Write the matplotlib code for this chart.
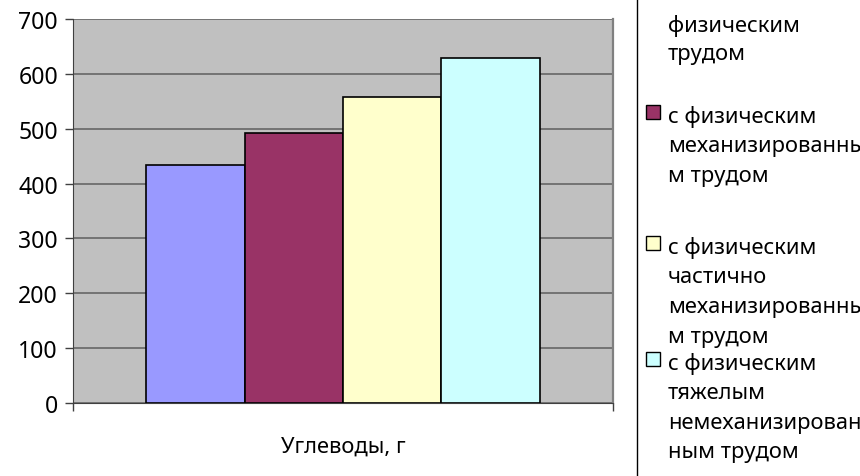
import numpy as np
import matplotlib
matplotlib.use("Agg")
import matplotlib.pyplot as plt
from matplotlib.patches import Rectangle

# ---- data ----
category = "Углеводы, г"
series_labels = [
    "занятые легким\nфизическим\nтрудом",
    "с физическим\nмеханизированны\nм трудом",
    "с физическим\nчастично\nмеханизированны\nм трудом",
    "с физическим\nтяжелым\nнемеханизирован\nным трудом",
]
values = [433, 492, 558, 629]
colors = ["#9999FF", "#993366", "#FFFFCC", "#CCFFFF"]
yticks = [0, 100, 200, 300, 400, 500, 600, 700]

FONT = ["Noto Sans", "DejaVu Sans"]
plt.rcParams["font.family"] = FONT
FS = 15.8

W, H = 860, 477
fig = plt.figure(figsize=(W / 100, H / 100), dpi=100)


def fx(px):
    return px / W


def fy(py):
    return 1 - py / H


# plot area
L, R, T, B = 73, 613, 20, 404
ax = fig.add_axes([fx(L), fy(B), fx(R - L), (B - T) / H])
ax.set_facecolor("#C0C0C0")

n = len(values)
group = 0.728
bw = group / n
x = (np.arange(n) - (n - 1) / 2) * bw
ax.bar(x, values, width=bw, color=colors, edgecolor="black", linewidth=1.2, zorder=3)

ax.set_xlim(-0.5, 0.5)
ax.set_ylim(0, 700)
ax.set_yticks(yticks)
ax.set_yticklabels([str(v) for v in yticks], fontsize=16.6)
ax.yaxis.grid(True, color="#6e6e6e", linewidth=1.3, zorder=1)
ax.set_axisbelow(True)
ax.tick_params(axis="y", direction="out", length=5.8, width=1, color="#404040", pad=5)
ax.set_xticks([-0.5, 0.5])
ax.set_xticklabels(["", ""])
ax.tick_params(axis="x", direction="out", length=5.8, width=1, color="#404040")

ax.spines["top"].set_visible(False)
ax.spines["left"].set_color("#404040")
ax.spines["bottom"].set_color("#404040")
ax.spines["right"].set_color("#808080")
ax.spines["right"].set_linewidth(1.6)

ax.set_xlabel(category, fontsize=FS)
ax.xaxis.set_label_coords(0.5, (B - 453) / (B - T))
ax.xaxis.label.set_va("baseline")

# ---- legend (partially cut off, as in the reference) ----
fig.patches.append(Rectangle((fx(637), fy(490)), fx(400), 520 / H,
                             transform=fig.transFigure, facecolor="white",
                             edgecolor="black", linewidth=1, zorder=0))
entry_baselines = [-1, 123, 254, 370]
line_gap = 29.5
for lab, col, b0 in zip(series_labels, colors, entry_baselines):
    lines = lab.split("\n")
    for i, line in enumerate(lines):
        yb = b0 + i * line_gap if b0 >= 0 else [-1, 32, 60][i]
        fig.text(fx(668), fy(yb), line, fontsize=FS, ha="left", va="baseline")
    fig.patches.append(Rectangle((fx(646), fy(b0 - 3)), fx(14), 14 / H,
                                 transform=fig.transFigure, facecolor=col,
                                 edgecolor="black", linewidth=1, zorder=2))

fig.savefig("out.png", dpi=100)
